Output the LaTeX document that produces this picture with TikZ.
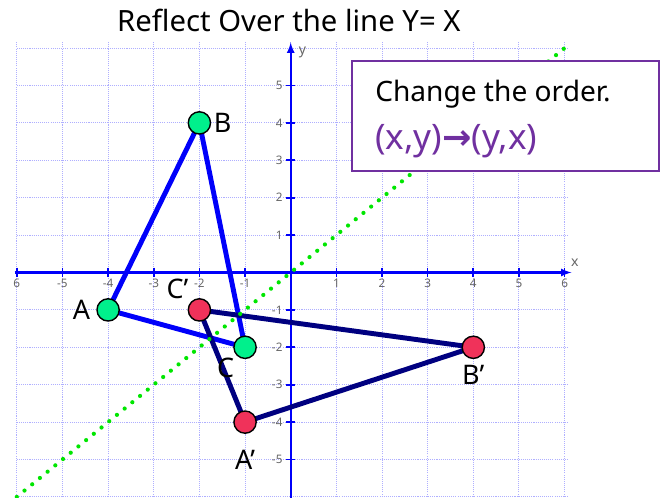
\documentclass[tikz,border=0pt]{standalone}
\usepackage{fontspec}
\setmainfont{Noto Sans}
\newfontfamily\arrowfont{DejaVu Sans}
\usetikzlibrary{arrows, positioning, calc}

\definecolor{gridblue}{RGB}{175,175,255}
\definecolor{axisblue}{RGB}{0,0,250}
\definecolor{navyside}{RGB}{0,0,128}
\definecolor{mint}{RGB}{0,240,140}
\definecolor{rosered}{RGB}{240,50,90}
\definecolor{mirrorgreen}{RGB}{0,230,0}
\definecolor{notepurple}{RGB}{112,48,160}

\pgfdeclarelayer{paper}
\pgfdeclarelayer{sides}
\pgfsetlayers{paper,sides,main}

\begin{document}
\begin{tikzpicture}[
  x=1.3695cm, y=1.122cm,
  > = latex,
  grid line/.style = {gridblue, line width=0.8pt, dash pattern=on 0.9pt off 0.9pt},
  axis line/.style = {axisblue, line width=2pt},
  tick label/.style = {gray!80!black, font=\fontsize{10}{10}\selectfont, inner sep=1pt},
  dot/.style = {draw=black, circle, line width=1.2pt, minimum size=19pt, inner sep=0pt},
  name label/.style = {font=\fontsize{23}{24}\selectfont, inner sep=2pt},
  first side/.style = {axisblue, line width=4.2pt, line join=round},
  second side/.style = {navyside, line width=4.2pt, line join=round},
  mirror line/.style = {mirrorgreen, line width=3.6pt, line cap=round, dash pattern=on 0pt off 8.5pt},
  note box/.style = {draw=notepurple, line width=2.2pt, fill=white, minimum width=9.21cm, minimum height=3.30cm}
  ]
  \useasboundingbox (-6.368,-6.003) rectangle (8.177,7.286);

  \begin{pgfonlayer}{paper}
    % grid
    \foreach \k in {-6,...,6} {
      \draw[grid line] (\k,-6.05) -- (\k,6.15);
      \draw[grid line] (-6,\k) -- (6.08,\k);
    }
    % axes
    \draw[axis line,->] (-6.05,0) -- (6.15,0) node[above left=3pt and -8pt, tick label, font=\fontsize{12}{12}\selectfont] (xlab) {x};
    \draw[axis line,->] (0,-6.05) -- (0,6.15) node[below right=2pt and 5pt, tick label, font=\fontsize{12}{12}\selectfont] (ylab) {y};
    \foreach \k in {-5,...,-1,1,2,...,6} {
      \draw[axisblue, line width=1.4pt] (\k,0.13) -- (\k,-0.13);
      \node[tick label] at (\k,-0.3) {\k};
    }
    \node[tick label] at (-6,-0.3) {6};
    \draw[axisblue, line width=1.4pt] (-6,0.13) -- (-6,-0.13);
    \foreach \k in {-5,...,-1,1,2,...,5} {
      \draw[axisblue, line width=1.4pt] (-0.1,\k) -- (0.1,\k);
      \node[tick label, anchor=east] at (-0.15,\k) {\k};
    }
  \end{pgfonlayer}

  % title
  \node[font=\fontsize{25}{28}\selectfont] (title) at (-0.04,6.74) {Reflect Over the line Y= X};

  % vertices
  \node[dot, fill=mint, label={[name label, label distance=3pt]left:A}] (@A) at (-4,-1) {};
  \node[dot, fill=mint, label={[name label]right:B}] (@B) at (-2,4) {};
  \node[dot, fill=mint, label={[name label]below left:C}] (@C) at (-1,-2) {};
  \node[dot, fill=rosered, label={[name label, label distance=12pt]below:A'}] (@Ap) at (-1,-4) {};
  \node[dot, fill=rosered, label={[name label, label distance=3pt]below:B'}] (@Bp) at (4,-2) {};
  \node[dot, fill=rosered, label={[name label]above left:C'}] (@Cp) at (-2,-1) {};

  \begin{pgfonlayer}{sides}
    \draw[first side] (@A.center) -- (@B.center) -- (@C.center) -- cycle;
    \draw[second side] (@Ap.center) -- (@Bp.center) -- (@Cp.center) -- cycle;
    \draw[mirror line] (-6,-6) -- (6,6);
  \end{pgfonlayer}

  % note
  \node[note box] (note) at (4.705,4.184) {};
  \node[anchor=base west, inner sep=0pt, font=\fontsize{24}{26}\selectfont] (order) at (1.847,4.56) {Change the order.};
  \node[anchor=base west, inner sep=0pt, notepurple, font=\fontsize{30}{32}\selectfont] (swap) at (1.847,3.30) {(x,y){\arrowfont\bfseries →}(y,x)};
\end{tikzpicture}
\end{document}
